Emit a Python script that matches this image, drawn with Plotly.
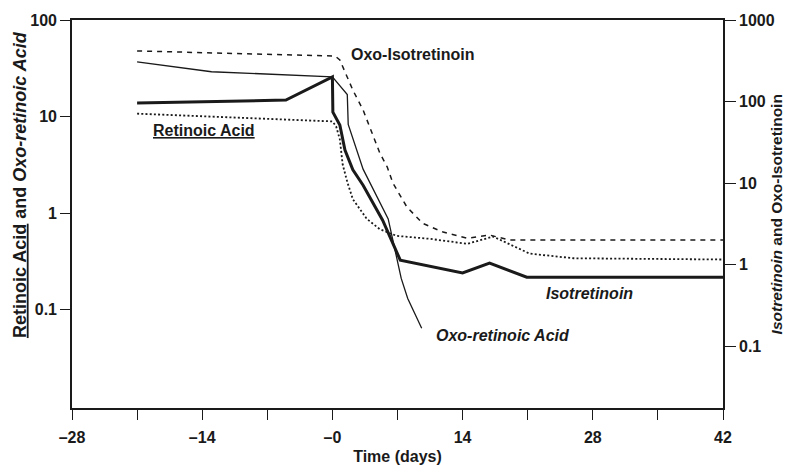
import plotly.graph_objects as go

# ---- data ----
days_retinoic = [-21, -4, 0, 0.4, 0.8, 1.1, 1.6, 2.2, 3.7, 5.1, 6.9, 10.5, 14.5, 17.3, 21.2, 25.9, 42]
retinoic_acid = [10.7, 9.3, 8.9, 7.9, 5.8, 3.2, 2.1, 1.39, 0.87, 0.68, 0.58, 0.54, 0.48, 0.57, 0.38, 0.34, 0.33]

days_oxo_retinoic = [-21, -13, 0, 1.6, 1.7, 3.3, 6.0, 6.4, 7.4, 8.1, 9.6]
oxo_retinoic_acid = [36.9, 29.1, 25.8, 16.9, 8.3, 2.85, 0.87, 0.58, 0.21, 0.13, 0.064]

days_iso = [-21, -5, 0, 0.05, 0.8, 1.35, 2.2, 3.3, 5.4, 7.3, 14, 16.9, 20.9, 42]
isotretinoin = [96, 104, 200, 74, 51.5, 25.4, 14.5, 9.4, 3.5, 1.13, 0.79, 1.04, 0.70, 0.70]

days_oxo_iso = [-21, 0.3, 0.8, 2.2, 3.3, 4.4, 5.1, 5.9, 6.5, 8.0, 9.7, 11.9, 14.5, 16.9, 19, 42]
oxo_isotretinoin = [417, 361, 323, 138, 78.7, 36.6, 23.3, 15.7, 10, 5.1, 3.2, 2.5, 2.1, 2.3, 2.0, 2.0]

x_tickvals = [-28, -21, -14, -7, 0, 7, 14, 21, 28, 35, 42]
x_ticktext = ["\u201328", "", "\u201314", "", "\u20130", "", "14", "", "28", "", "42"]
left_tickvals = [0.1, 1, 10, 100]
left_ticktext = ["0.1", "1", "10", "100"]
right_tickvals = [0.1, 1, 10, 100, 1000]
right_ticktext = ["0.1", "1", "10", "100", "1000"]

INK = "#1a1a1a"
FONT = "Liberation Sans"

fig = go.Figure()
fig.add_trace(go.Scatter(x=days_retinoic, y=retinoic_acid, mode="lines", name="Retinoic Acid",
                         line=dict(color=INK, width=1.8, dash="2px,2.2px"), yaxis="y"))
fig.add_trace(go.Scatter(x=days_oxo_retinoic, y=oxo_retinoic_acid, mode="lines", name="Oxo-retinoic Acid",
                         line=dict(color=INK, width=1.3), yaxis="y"))
fig.add_trace(go.Scatter(x=days_iso, y=isotretinoin, mode="lines", name="Isotretinoin",
                         line=dict(color=INK, width=3), yaxis="y2"))
fig.add_trace(go.Scatter(x=days_oxo_iso, y=oxo_isotretinoin, mode="lines", name="Oxo-Isotretinoin",
                         line=dict(color=INK, width=1.5, dash="5px,5px"), yaxis="y2"))

axis_font = dict(family=FONT, size=16, color=INK, weight="bold")

# the page body has an 8px margin, so the figure is sized to fit inside the window
fig.update_layout(
    width=783, height=457,
    margin=dict(l=64, r=68, t=12, b=57),
    paper_bgcolor="white", plot_bgcolor="white",
    showlegend=False,
    font=dict(family=FONT, color=INK),
    xaxis=dict(range=[-28, 42], tickmode="array", tickvals=x_tickvals, ticktext=x_ticktext,
               showline=True, linecolor=INK, linewidth=1.6, mirror=True,
               ticks="outside", ticklen=10, tickwidth=1.4, tickcolor=INK, ticklabelstandoff=4,
               showgrid=False, zeroline=False, tickfont=axis_font, automargin=False,
               title=dict(text="<b>Time (days)</b>", font=dict(family=FONT, size=16, color=INK), standoff=10)),
    yaxis=dict(type="log", range=[-2.02, 2], tickmode="array", tickvals=left_tickvals, ticktext=left_ticktext,
               showline=True, linecolor=INK, linewidth=1.6, automargin=False,
               ticks="outside", ticklen=10, tickwidth=1.4, tickcolor=INK,
               showgrid=False, zeroline=False, tickfont=axis_font),
    yaxis2=dict(type="log", range=[-1.76, 3], overlaying="y", side="right",
                tickmode="array", tickvals=right_tickvals, ticktext=right_ticktext,
                showline=True, linecolor=INK, linewidth=1.6, automargin=False,
                ticks="outside", ticklen=11, tickwidth=1.4, tickcolor=INK,
                showgrid=False, zeroline=False, tickfont=axis_font),
)

ann_font = dict(family=FONT, size=16, color=INK)
annotations = [
    dict(text="<b><u>Retinoic Acid</u> and <i>Oxo-retinoic Acid</i></b>", x=-0.08, y=0.577,
         textangle=-90, font=dict(family=FONT, size=18, color=INK)),
    dict(text="<b><i>Isotretinoin</i> and Oxo-Isotretinoin</b>", x=1.082, y=0.5,
         textangle=-90, font=dict(family=FONT, size=15.5, color=INK)),
    dict(text="<b>Oxo-Isotretinoin</b>", x=0.425, y=0.910, xanchor="left", font=ann_font),
    dict(text="<b><u>Retinoic Acid</u></b>", x=0.121, y=0.716, xanchor="left", font=ann_font),
    dict(text="<b><i>Isotretinoin</i></b>", x=0.725, y=0.296, xanchor="left", font=ann_font),
    dict(text="<b><i>Oxo-retinoic Acid</i></b>", x=0.556, y=0.188, xanchor="left", font=ann_font),
]
for a in annotations:
    a.update(xref="paper", yref="paper", showarrow=False)
    a.setdefault("xanchor", "center")
    a["yanchor"] = "middle"
fig.update_layout(annotations=annotations)

fig.write_html("out.html")
